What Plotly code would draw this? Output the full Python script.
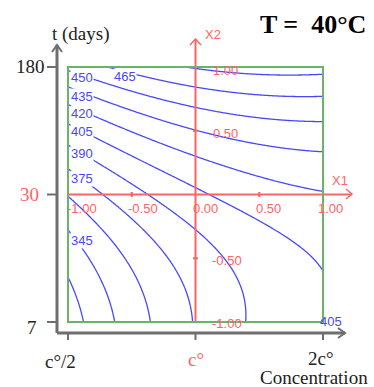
import numpy as np
import plotly.graph_objects as go

# Response-surface model (coded variables X1 = concentration, X2 = time)
b0 = 402.16
b1, b2 = 27.81, 51.34
b11, b12, b22 = -12.19, -12.84, 26.43
b111, b112, b122, b222 = 1.27, 0.18, -0.19, 1.32

levels_start, levels_end, levels_step = 330, 480, 15

x1_ticks = [-1.0, -0.5, 0.0, 0.5, 1.0]
x1_tick_labels = ['-1.00', '-0.50', '0.00', '0.50', '1.00']
x2_tick_labels = ['1.00', '0.50', '-0.50', '-1.00']
conc_labels = ['c°/2', 'c°', '2c°']
time_labels = ['180', '30', '7']
contour_label_values = ['450', '465', '435', '420', '405', '390', '375', '345', '405']

g = np.linspace(-1, 1, 201)
X1, X2 = np.meshgrid(g, g)
Z = (b0 + b1*X1 + b2*X2 + b11*X1**2 + b12*X1*X2 + b22*X2**2
     + b111*X1**3 + b112*X1**2*X2 + b122*X1*X2**2 + b222*X2**3)

S, CX, CY = 127.5, 195.5, 194.5
def dx(p):
    return (p - CX) / S
def dy(p):
    return (CY - p) / S

BLUE = '#4747ff'
RED = '#ff6464'
GREEN = '#6ab46a'
GRAY = '#6e6e6e'
DARK = '#222222'

fig = go.Figure()
fig.add_trace(go.Contour(
    x=g, y=g, z=Z,
    contours=dict(start=levels_start, end=levels_end, size=levels_step,
                  coloring='lines', showlabels=False),
    line=dict(width=1.3),
    colorscale=[[0, BLUE], [1, BLUE]], showscale=False, hoverinfo='skip'))

shapes = []
def seg(x0, y0, x1, y1, color, w):
    shapes.append(dict(type='line', x0=x0, y0=y0, x1=x1, y1=y1, xref='x', yref='y',
                       line=dict(color=color, width=w), layer='above'))
def path(pp, color, w):
    d = 'M ' + ' L '.join(f'{dx(px)},{dy(py)}' for px, py in pp)
    shapes.append(dict(type='path', path=d, xref='x', yref='y',
                       line=dict(color=color, width=w), layer='above'))

# outer gray axes
seg(dx(57), dy(333), dx(57), dy(45), GRAY, 3)
seg(dx(57), dy(333), dx(345), dy(333), GRAY, 3)
path([(52, 52), (57, 45), (62, 52)], GRAY, 2)
path([(338, 328), (345, 333), (338, 338)], GRAY, 2)
for v in [-1, 0, 1]:
    seg(dx(47), v, dx(57), v, GRAY, 2)
    seg(v, dy(333), v, dy(340), GRAY, 2)

# red coded axes
seg(-1, 0, dx(352), 0, RED, 2)
seg(0, -1, 0, dy(39), RED, 2)
path([(346, 189), (352, 194), (346, 199)], RED, 1.5)
path([(190, 45), (195.5, 39), (201, 45)], RED, 1.5)
for v in [-0.5, 0.5]:
    seg(v, dy(192), v, dy(197), RED, 2)
    seg(dx(193), v, dx(198), v, RED, 2)

# green experimental domain
shapes.append(dict(type='rect', x0=-1, y0=-1, x1=1, y1=1, xref='x', yref='y',
                   line=dict(color=GREEN, width=2), layer='above'))

ann = []
def txt(px, py, s, size, color, family='Liberation Serif', xanchor='center', bg=None, bold=False):
    if bold:
        s = '<b>' + s + '</b>'
    d = dict(x=dx(px), y=dy(py), xref='x', yref='y', text=s, showarrow=False,
             xanchor=xanchor, yanchor='middle', font=dict(size=size, color=color, family=family))
    if bg:
        d['bgcolor'] = bg
        d['borderpad'] = 0
    ann.append(d)

txt(30, 66, time_labels[0], 19, DARK)
txt(29, 194, time_labels[1], 19, RED)
txt(32, 327, time_labels[2], 19, DARK)
txt(60, 361, conc_labels[0], 19, DARK)
txt(196, 359, conc_labels[1], 19, RED)
txt(321, 358, conc_labels[2], 19, DARK)
txt(314, 377, 'Concentration', 19, DARK)
txt(81, 34, 't (days)', 19, DARK)
txt(313, 24, 'T =  40°C', 26, '#000000', bold=True)

SANS = 'Liberation Sans'
for px, s in zip([82, 143, 205, 268, 330], x1_tick_labels):
    txt(px, 208, s, 13, RED, SANS)
for (px, py), s in zip([(225, 70), (225, 133), (227, 260), (227, 323)], x2_tick_labels):
    txt(px, py, s, 13, RED, SANS)
txt(340, 180, 'X1', 13, RED, SANS)
txt(213, 34, 'X2', 13, RED, SANS)

label_pos = [(69.5, 77), (113, 76), (69.5, 96), (69.5, 113), (69.5, 131),
             (69.5, 153), (69.5, 178), (69.5, 240)]
for (px, py), s in zip(label_pos, contour_label_values[:8]):
    txt(px, py, s, 13, BLUE, SANS, xanchor='left', bg='white')
txt(331, 321, contour_label_values[8], 13, BLUE, SANS)

fig.update_layout(
    width=374, height=387, margin=dict(l=0, r=0, t=0, b=0, pad=0),
    paper_bgcolor='white', plot_bgcolor='white', showlegend=False,
    xaxis=dict(range=[dx(0), dx(374)], visible=False, fixedrange=True),
    yaxis=dict(range=[dy(387), dy(0)], visible=False, fixedrange=True),
    shapes=shapes, annotations=ann)
fig.write_html('out.html')
